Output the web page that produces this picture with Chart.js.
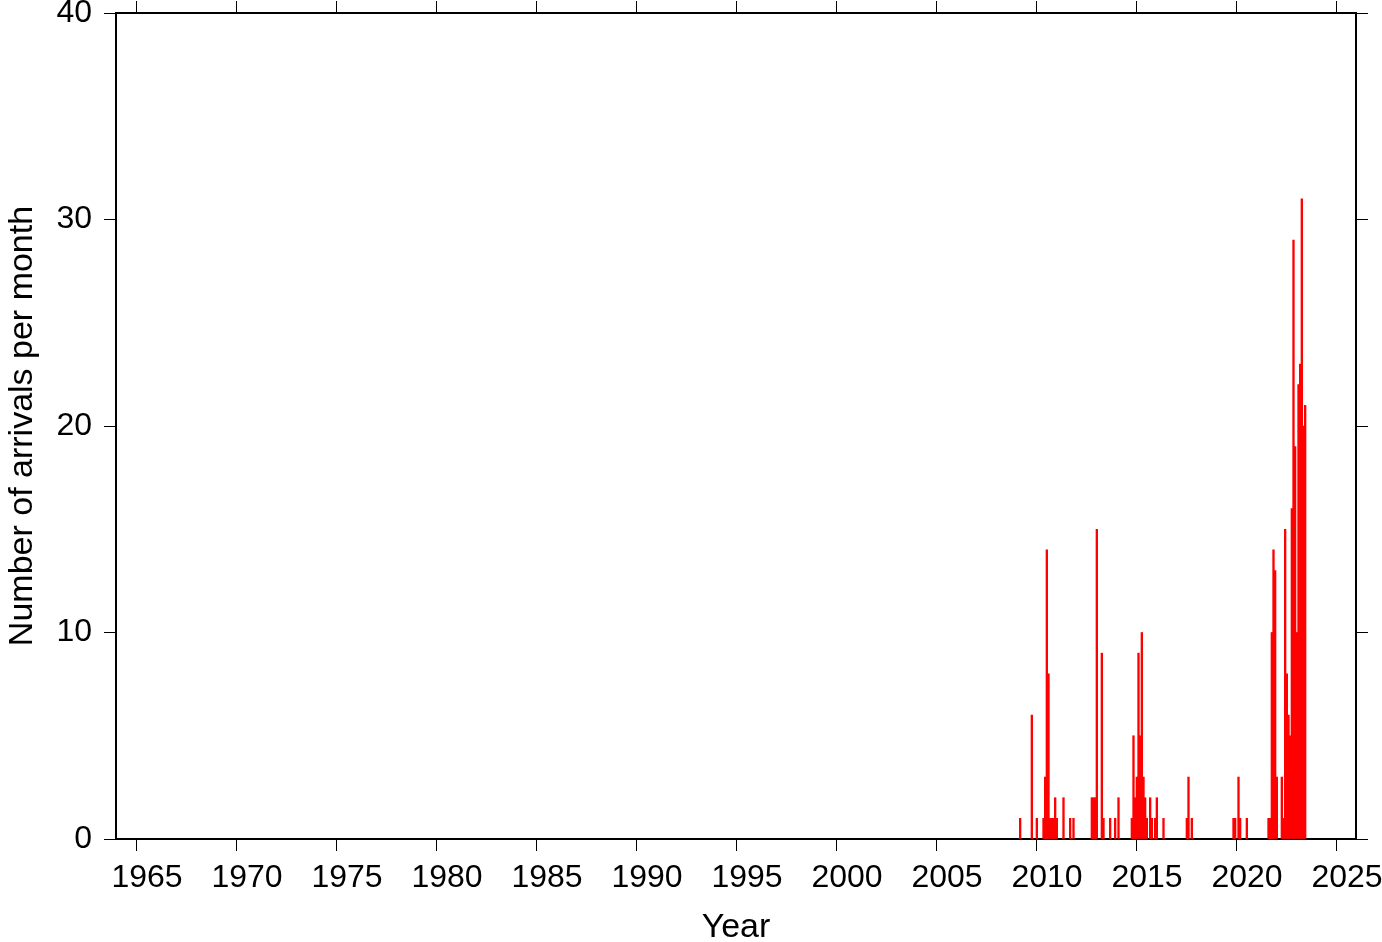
<!DOCTYPE html>
<html>
<head>
<meta charset="utf-8">
<script src="https://cdn.jsdelivr.net/npm/chart.js@4.4.1/dist/chart.umd.min.js"></script>
<style>
  html, body { margin: 0; padding: 0; background: #ffffff; }
  #wrap { width: 1382px; height: 942px; }
</style>
</head>
<body>
<div id="wrap"><canvas id="c" width="1382" height="942"></canvas></div>
<script>
// Months (YYYY-MM) with at least one arrival, and counts per month
const months = [
  "2009-03","2009-10","2010-01","2010-05","2010-06","2010-07","2010-08","2010-09",
  "2010-10","2010-11","2010-12","2011-01","2011-05","2011-09","2011-11","2012-10",
  "2012-11","2012-12","2013-01","2013-04","2013-05","2013-09","2013-12","2014-02",
  "2014-10","2014-11","2014-12","2015-01","2015-02","2015-03","2015-04","2015-05",
  "2015-06","2015-07","2015-09","2015-10","2015-12","2016-01","2016-05","2017-07",
  "2017-08","2017-10","2019-11","2019-12","2020-02","2020-03","2020-07","2021-08",
  "2021-09","2021-10","2021-11","2021-12","2022-01","2022-04","2022-05","2022-06",
  "2022-07","2022-08","2022-09","2022-10","2022-11","2022-12","2023-01","2023-02",
  "2023-03","2023-04","2023-05","2023-06"
];
const counts = [
  1,6,1,1,3,14,8,1,
  1,1,2,1,2,1,1,2,
  2,2,15,9,1,1,1,2,
  1,5,2,3,9,5,10,3,
  2,1,2,1,1,2,1,1,
  3,1,1,1,3,1,1,1,
  1,10,14,13,3,3,1,15,
  8,6,5,16,29,19,10,22,
  23,31,20,21
];
const xTickYears = [1965,1970,1975,1980,1985,1990,1995,2000,2005,2010,2015,2020,2025];
const yTickValues = [0,10,20,30,40];
const xTitle = "Year";
const yTitle = "Number of arrivals per month";

const points = months.map((m, i) => {
  const [yy, mm] = m.split("-").map(Number);
  return { x: yy + (mm - 0.5) / 12, y: counts[i] };
});

const FONT = "'Liberation Sans', Arial, Helvetica, sans-serif";
const tickFont = { family: FONT, size: 32 };
const titleFontX = { family: FONT, size: 34, lineHeight: 1.0 };
const titleFontY = { family: FONT, size: 34 };
const black = "#000000";

function setTicks(list) {
  return (scale) => { scale.ticks = list.map(v => ({ value: v })); };
}
function fitH(h) {
  return (s) => { s.height = h; s.paddingLeft = 0; s.paddingRight = 0; s.paddingTop = 0; s.paddingBottom = 0; };
}
function fitW(w) {
  return (s) => { s.width = w; s.paddingLeft = 0; s.paddingRight = 0; s.paddingTop = 0; s.paddingBottom = 0; };
}

new Chart(document.getElementById("c"), {
  type: "bar",
  data: {
    datasets: [{
      data: points,
      backgroundColor: "#ff0000",
      borderWidth: 0,
      barThickness: 1.6667,
      xAxisID: "x",
      yAxisID: "y"
    }]
  },
  options: {
    responsive: false,
    animation: false,
    devicePixelRatio: 1,
    layout: { padding: 0 },
    plugins: { legend: { display: false }, tooltip: { enabled: false } },
    scales: {
      x: {
        type: "linear", position: "bottom", min: 1964, max: 2026, offset: false,
        afterBuildTicks: setTicks(xTickYears),
        afterFit: fitH(103),
        grid: { drawOnChartArea: false, drawTicks: true, tickLength: 12, color: black, lineWidth: 1, offset: false },
        border: { display: true, color: black, width: 2 },
        ticks: { color: black, font: tickFont, padding: 8, labelOffset: 11, autoSkip: false, maxRotation: 0,
                 callback: (v) => String(v) },
        title: { display: true, text: xTitle, color: black, font: titleFontX,
                 padding: { top: 0, bottom: -2.5 } }
      },
      x2: {
        type: "linear", position: "top", min: 1964, max: 2026, offset: false,
        afterBuildTicks: setTicks(xTickYears),
        afterFit: fitH(13),
        grid: { drawOnChartArea: false, drawTicks: true, tickLength: 12, color: black, lineWidth: 1, offset: false },
        border: { display: true, color: black, width: 2 },
        ticks: { display: false }
      },
      y: {
        type: "linear", position: "left", min: 0, max: 40,
        afterBuildTicks: setTicks(yTickValues),
        afterFit: fitW(116),
        grid: { drawOnChartArea: false, drawTicks: true, tickLength: 12, color: black, lineWidth: 1 },
        border: { display: true, color: black, width: 2 },
        ticks: { color: black, font: tickFont, padding: 12, callback: (v) => String(v) },
        title: { display: true, text: yTitle, color: black, font: titleFontY,
                 padding: { top: 2, bottom: 0 } }
      },
      y2: {
        type: "linear", position: "right", min: 0, max: 40,
        afterBuildTicks: setTicks(yTickValues),
        afterFit: fitW(26),
        grid: { drawOnChartArea: false, drawTicks: true, tickLength: 12, color: black, lineWidth: 1 },
        border: { display: true, color: black, width: 2 },
        ticks: { display: false }
      }
    }
  }
});
</script>
</body>
</html>
